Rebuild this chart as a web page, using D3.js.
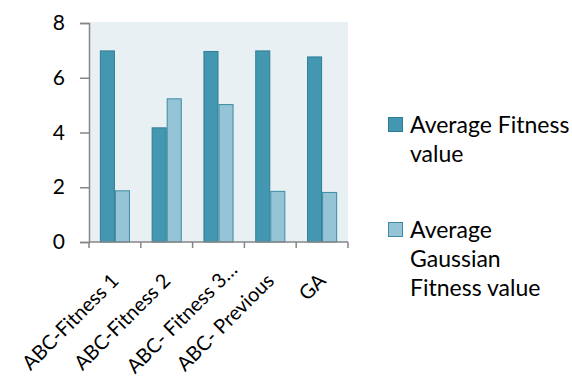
<!DOCTYPE html>
<html>
<head>
<meta charset="utf-8">
<script src="https://cdn.jsdelivr.net/npm/d3@7"></script>
<style>
  html, body { margin: 0; padding: 0; background: #ffffff; }
  svg { display: block; }
  text { font-family: Lato, "Open Sans", sans-serif; fill: #000; }
</style>
</head>
<body>
<svg id="chart" width="572" height="379"></svg>
<script>
// Categories and series values
const categories = ["ABC-Fitness 1", "ABC-Fitness 2", "ABC- Fitness 3…", "ABC- Previous", "GA"];
const seriesNames = ["Average Fitness value", "Average Gaussian Fitness value"];
const avgFitness = [6.98, 4.17, 6.96, 6.98, 6.76];
const avgGaussianFitness = [1.87, 5.23, 5.02, 1.85, 1.81];
const yTicks = [0, 2, 4, 6, 8];
const legendLines = [["Average Fitness", "value"], ["Average", "Gaussian", "Fitness value"]];

const fills = ["#4397b0", "#94c4d6"];
const strokes = ["#2f7d93", "#3c8ba3"];

const svg = d3.select("#chart");
const plot = { left: 89, right: 348, top: 22, bottom: 242 };

const x = d3.scaleBand().domain(categories).range([plot.left, plot.right]).padding(0);
const x1 = d3.scaleBand().domain(seriesNames).range([0, x.bandwidth()]).paddingInner(0).paddingOuter(0.72);
const y = d3.scaleLinear().domain([0, 8]).range([plot.bottom, 23]);

// Plot area background
svg.append("rect")
  .attr("x", plot.left).attr("y", plot.top)
  .attr("width", plot.right - plot.left).attr("height", plot.bottom - plot.top)
  .attr("fill", "#e8f0f4");

// Bars
const rows = categories.map((c, i) => ({ cat: c, vals: [avgFitness[i], avgGaussianFitness[i]] }));
const groups = svg.append("g").selectAll("g").data(rows).join("g")
  .attr("transform", d => `translate(${x(d.cat)},0)`);
groups.selectAll("rect")
  .data(d => d.vals.map((v, k) => ({ v, k })))
  .join("rect")
  .attr("x", d => x1(seriesNames[d.k]) + 0.5)
  .attr("width", x1.bandwidth() - 1)
  .attr("y", d => y(d.v))
  .attr("height", d => y(0) - y(d.v))
  .attr("fill", d => fills[d.k])
  .attr("stroke", d => strokes[d.k])
  .attr("stroke-width", 1);

// Y axis
const yAxis = svg.append("g")
  .attr("transform", `translate(${plot.left},0)`)
  .call(d3.axisLeft(y).tickValues(yTicks).tickSize(9).tickPadding(15).tickFormat(d3.format("d")));
yAxis.select(".domain").attr("stroke", "#868686").attr("stroke-width", 1.5);
yAxis.selectAll(".tick line").attr("stroke", "#868686").attr("stroke-width", 1.5);
yAxis.selectAll("text").style("font-size", "21px").attr("fill", "#000");

// X axis: ticks on category boundaries
const xAxisG = svg.append("g").attr("transform", `translate(0,${plot.bottom})`);
xAxisG.append("line")
  .attr("x1", plot.left).attr("x2", plot.right)
  .attr("stroke", "#868686").attr("stroke-width", 1.5);
const bounds = categories.map(c => x(c)).concat([x.range()[1]]);
xAxisG.selectAll("line.tk").data(bounds).join("line")
  .attr("class", "tk")
  .attr("x1", d => d).attr("x2", d => d)
  .attr("y1", 0).attr("y2", 6)
  .attr("stroke", "#868686").attr("stroke-width", 1.5);

// Rotated category labels; the truncated label sits a little further up the diagonal
const labelAnchor = c => {
  const cx = x(c) + x.bandwidth() / 2;
  return c.endsWith("…") ? [cx + 20, plot.bottom + 29] : [cx + 5, plot.bottom + 40];
};
svg.append("g").selectAll("text").data(categories).join("text")
  .attr("transform", c => { const [ax, ay] = labelAnchor(c); return `translate(${ax},${ay}) rotate(-45)`; })
  .attr("text-anchor", "end")
  .style("font-size", "20px")
  .text(c => c);

// Legend
const legendY = [117, 222];
const leg = svg.append("g").selectAll("g").data(seriesNames).join("g")
  .attr("transform", (d, i) => `translate(388,${legendY[i]})`);
leg.append("rect")
  .attr("x", 0.5).attr("y", 0.5).attr("width", 14).attr("height", 14)
  .attr("fill", (d, i) => fills[i]).attr("stroke", (d, i) => strokes[i]).attr("stroke-width", 1);
leg.append("text")
  .attr("x", 22).attr("y", 16)
  .style("font-size", "23px")
  .selectAll("tspan").data((d, i) => legendLines[i]).join("tspan")
  .attr("x", 22).attr("dy", (d, j) => j === 0 ? 0 : 29)
  .text(d => d);
</script>
</body>
</html>
